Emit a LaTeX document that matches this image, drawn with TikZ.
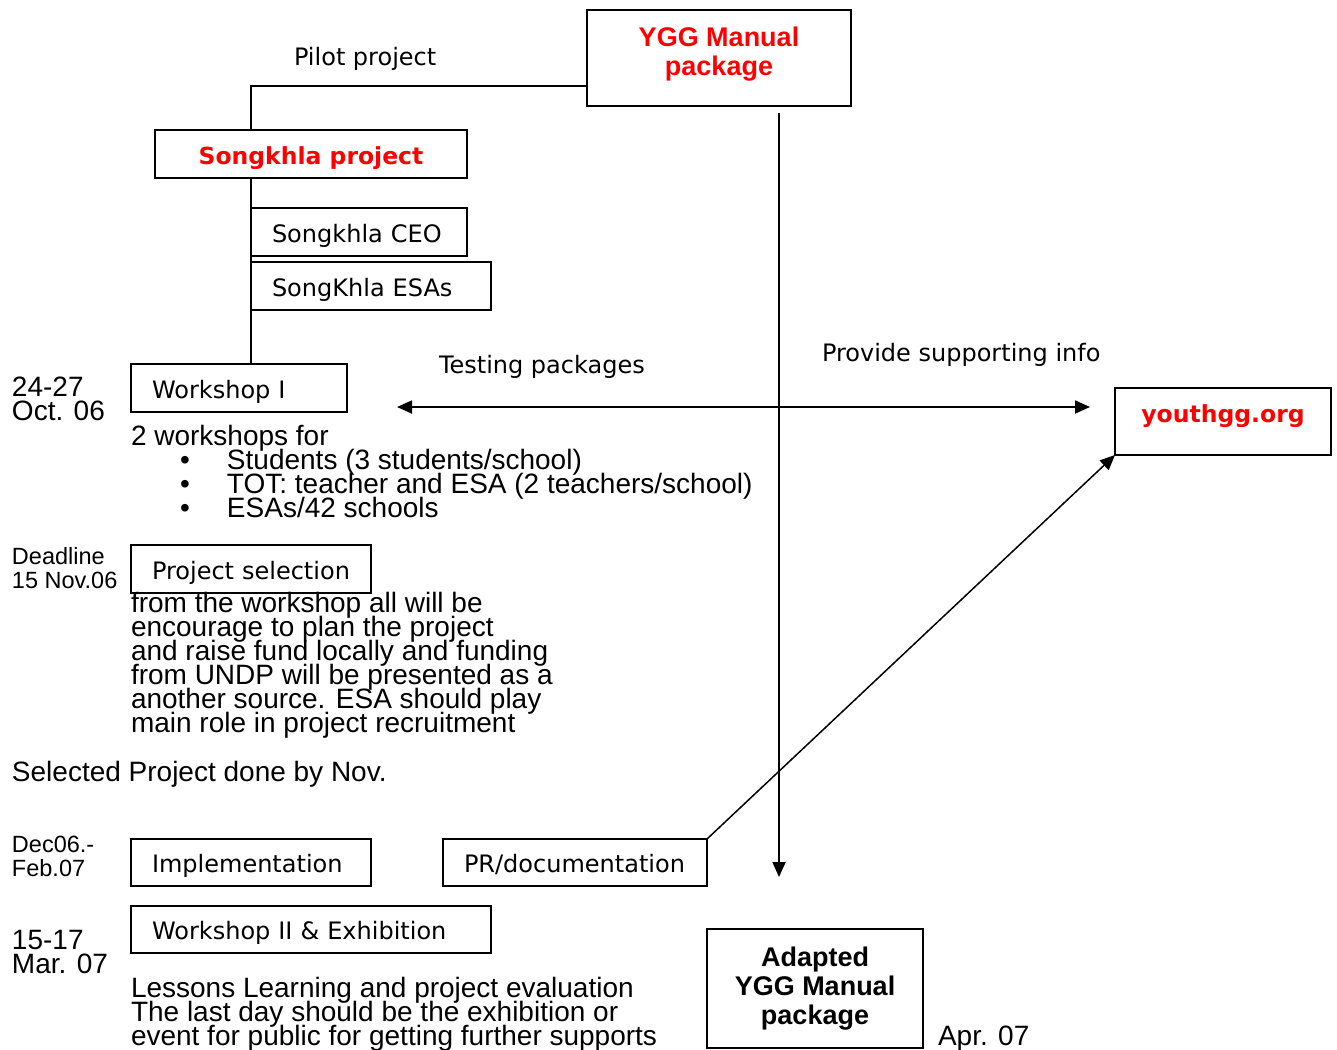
\documentclass[tikz,border=0pt]{standalone}
\usepackage{fontspec}
\setmainfont{Liberation Sans}
\newfontfamily\vfont{DejaVu Sans}
\usetikzlibrary{arrows.meta}
\newcommand\bodyf{\fontsize{28}{24}\selectfont\lineskiplimit=-100pt\lineskip=0pt}
\newcommand\smallf{\fontsize{23.5}{24}\selectfont\lineskiplimit=-100pt\lineskip=0pt}
\newcommand\labf{\vfont\fontsize{24}{28}\selectfont}
\newcommand\redv{\vfont\bfseries\fontsize{23.5}{28}\selectfont}
\newcommand\redl{\bfseries\fontsize{27}{29}\selectfont\lineskiplimit=-100pt\lineskip=0pt}
\tikzset{
  every node/.style={inner sep=0pt, outer sep=0pt},
  boxc/.style={draw, line width=1.8pt, anchor=north west, align=center},
  boxl/.style={draw, line width=1.8pt, anchor=north west, align=left, inner xsep=21pt, font=\labf, text height=20pt, text depth=0pt},
  lab/.style={anchor=base west, font=\labf},
  txt/.style={anchor=base west, align=left, font=\bodyf},
  stxt/.style={anchor=base west, align=left, font=\smallf},
  conn/.style={line width=1.8pt},
  tip/.style={-{Triangle[length=15pt,width=13pt]}},
  dtip/.style={{Triangle[length=15pt,width=13pt]}-{Triangle[length=15pt,width=13pt]}}
}
\begin{document}
\begin{tikzpicture}[x=1pt,y=-1pt]
\useasboundingbox (0,0) rectangle (1337,1049);
% boxes
\node[boxc, minimum width=264, minimum height=96, font=\redl, text=red, text depth=14pt] (ygg) at (587,10) {YGG Manual\\package};
\node[boxc, minimum width=312, minimum height=48, font=\redv, text=red, text height=21pt, text depth=0pt] (sk) at (155,130) {Songkhla project};
\node[boxl, text width=174, minimum height=48] (ceo) at (251,208) {Songkhla CEO};
\node[boxl, text width=198, minimum height=48] (esa) at (251,262) {SongKhla ESAs};
\node[boxl, text width=174, minimum height=48] (wk1) at (131,364) {Workshop I};
\node[boxl, text width=198, minimum height=48] (ps) at (131,545) {Project selection};
\node[boxl, text width=198, minimum height=47] (impl) at (131,839) {Implementation};
\node[boxl, text width=222, minimum height=47] (pr) at (443,839) {PR/documentation};
\node[boxl, text width=318, minimum height=47] (wk2) at (131,906) {Workshop II \& Exhibition};
\node[boxc, minimum width=216, minimum height=67, font=\redv, text=red, text depth=15.5pt] (yg) at (1115,388) {youthgg.org};
\node[boxc, minimum width=216, minimum height=119, font=\redl] (adp) at (707,929) {Adapted\\YGG Manual\\package};
% labels
\node[lab] (pilot) at (294,66) {Pilot project};
\node[lab] (testing) at (439,373) {Testing packages};
\node[lab] (provide) at (822,361) {Provide supporting info};
% body texts (anchored at the baseline of the last line)
\node[txt] (d1) at (12,420) {24-27\\Oct. 06};
\node[txt] (w1txt) at (131,517) {2 workshops for\\
\hspace*{49pt}\makebox[47pt][l]{•}Students (3 students/school)\\
\hspace*{49pt}\makebox[47pt][l]{•}TOT: teacher and ESA (2 teachers/school)\\
\hspace*{49pt}\makebox[47pt][l]{•}ESAs/42 schools};
\node[stxt] (d2) at (12,588) {Deadline\\15 Nov.06};
\node[txt] (pstxt) at (131,732) {from the workshop all will be\\encourage to plan the project\\and raise fund locally and funding\\from UNDP will be presented as a\\another source. ESA should play\\main role in project recruitment};
\node[txt] (sel) at (12,781) {Selected Project done by Nov.};
\node[stxt] (d3) at (12,876) {Dec06.-\\Feb.07};
\node[txt] (d4) at (12,973) {15-17\\Mar. 07};
\node[txt] (les) at (131,1045) {Lessons Learning and project evaluation\\The last day should be the exhibition or\\event for public for getting further supports};
\node[txt] (apr) at (938,1045) {Apr. 07};
% connectors
\coordinate (ha) at (397,407);
\coordinate (hb) at (1090,407);
\coordinate (va) at (779,113);
\coordinate (vb) at (779,877);
\draw[conn] ([yshift=-28pt]ygg.west) -| (ceo.west |- sk.north);
\draw[conn] (ceo.west |- sk.south) -- (ceo.west |- wk1.north);
\draw[conn, dtip] (ha) -- (hb);
\draw[conn, tip] (va) -- (vb);
\draw[line width=1.5pt, tip] (pr.north east) -- (yg.south west);
\end{tikzpicture}
\end{document}
